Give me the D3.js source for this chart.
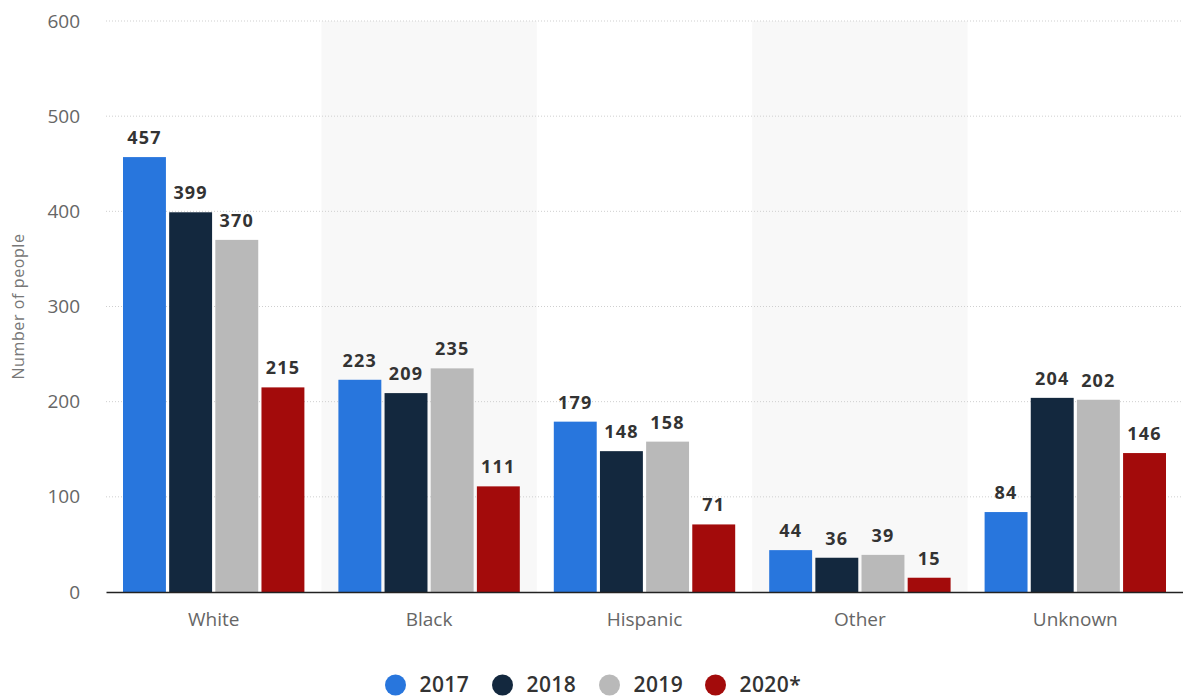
<!DOCTYPE html>
<html>
<head>
<meta charset="utf-8">
<script src="https://cdn.jsdelivr.net/npm/d3@7"></script>
<style>
  body { margin: 0; background: #fff; }
  svg { display: block; font-family: "Open Sans", sans-serif; }
</style>
</head>
<body>
<svg width="1183" height="698"></svg>
<script>
// categories and series
var categories = ['White', 'Black', 'Hispanic', 'Other', 'Unknown'];
var years = ['2017', '2018', '2019', '2020*'];
var values2017 = [457, 223, 179, 44, 84];
var values2018 = [399, 209, 148, 36, 204];
var values2019 = [370, 235, 158, 39, 202];
var values2020 = [215, 111, 71, 15, 146];
var yTicks = [0, 100, 200, 300, 400, 500, 600];
var colors = ['#2876dd', '#13283e', '#b9b9b9', '#a30b0b'];

var series = [values2017, values2018, values2019, values2020];

var margin = {top: 21, right: 0, bottom: 106, left: 106};
var width = 1183 - margin.left - margin.right;
var height = 698 - margin.top - margin.bottom;

var svg = d3.select('svg')
  .append('g')
  .attr('transform', 'translate(' + margin.left + ',' + margin.top + ')');

var x0 = d3.scaleBand().domain(categories).range([0, width]);
var x1 = d3.scaleBand().domain(years)
  .range([17, x0.bandwidth() - 17])
  .paddingInner(0.07);
var y = d3.scaleLinear().domain([0, 600]).range([height, 0]);

// alternating background bands
svg.selectAll('.band')
  .data(categories.filter(function(d, i) { return i % 2 === 1; }))
  .enter().append('rect')
  .attr('x', function(d) { return x0(d); })
  .attr('y', y(600))
  .attr('width', x0.bandwidth())
  .attr('height', y(0) - y(600))
  .attr('fill', '#f8f8f8');

// gridlines
svg.selectAll('.grid')
  .data(yTicks.slice(1))
  .enter().append('line')
  .attr('x1', 0).attr('x2', width)
  .attr('y1', function(d) { return y(d); })
  .attr('y2', function(d) { return y(d); })
  .attr('stroke', '#cfcfcf')
  .attr('stroke-dasharray', '1,2');

// y axis labels
var yAxis = d3.axisLeft(y).tickValues(yTicks).tickSize(0).tickPadding(26);
var gy = svg.append('g').call(yAxis);
gy.select('.domain').remove();
gy.selectAll('text').attr('fill', '#666').style('font-size', '19px')
  .style('font-family', '"Open Sans", sans-serif');

// bars
var groups = svg.selectAll('.group')
  .data(categories)
  .enter().append('g')
  .attr('transform', function(d) { return 'translate(' + x0(d) + ',0)'; });

groups.selectAll('rect')
  .data(function(d, ci) {
    return years.map(function(yr, si) { return {year: yr, value: series[si][ci], idx: si}; });
  })
  .enter().append('rect')
  .attr('x', function(d) { return x1(d.year); })
  .attr('y', function(d) { return y(d.value); })
  .attr('width', x1.bandwidth())
  .attr('height', function(d) { return y(0) - y(d.value); })
  .attr('fill', function(d) { return colors[d.idx]; });

groups.selectAll('.val')
  .data(function(d, ci) {
    return years.map(function(yr, si) { return {year: yr, value: series[si][ci]}; });
  })
  .enter().append('text')
  .attr('x', function(d) { return x1(d.year) + x1.bandwidth() / 2; })
  .attr('y', function(d) { return y(d.value) - 13; })
  .attr('text-anchor', 'middle')
  .attr('fill', '#333')
  .style('font-size', '18px')
  .style('font-weight', 'bold')
  .style('letter-spacing', '1.2px')
  .text(function(d) { return d.value; });

// x axis
var xAxis = d3.axisBottom(x0).tickSize(0).tickPadding(21);
var gx = svg.append('g')
  .attr('transform', 'translate(0,' + height + ')')
  .call(xAxis);
gx.select('.domain').attr('stroke', '#222').attr('stroke-width', 1.5);
gx.selectAll('text').attr('fill', '#666').style('font-size', '19px')
  .style('font-family', '"Open Sans", sans-serif');

// y axis title
svg.append('text')
  .attr('transform', 'translate(' + (24 - margin.left) + ',' + y(300) + ') rotate(-90)')
  .attr('text-anchor', 'middle')
  .attr('fill', '#777')
  .style('font-size', '16px')
  .style('letter-spacing', '0.6px')
  .text('Number of people');

// legend
var legendX = [395.5, 502.5, 609.5, 715.5];
var legend = d3.select('svg').append('g');
var items = legend.selectAll('g')
  .data(years)
  .enter().append('g')
  .attr('transform', function(d, i) { return 'translate(' + legendX[i] + ',685)'; });
items.append('circle').attr('r', 10.5).attr('fill', function(d, i) { return colors[i]; });
items.append('text')
  .attr('x', 24).attr('y', 7)
  .attr('fill', '#333')
  .style('font-size', '21px')
  .style('font-weight', 600)
  .style('letter-spacing', '0.4px')
  .text(function(d) { return d; });
</script>
</body>
</html>
